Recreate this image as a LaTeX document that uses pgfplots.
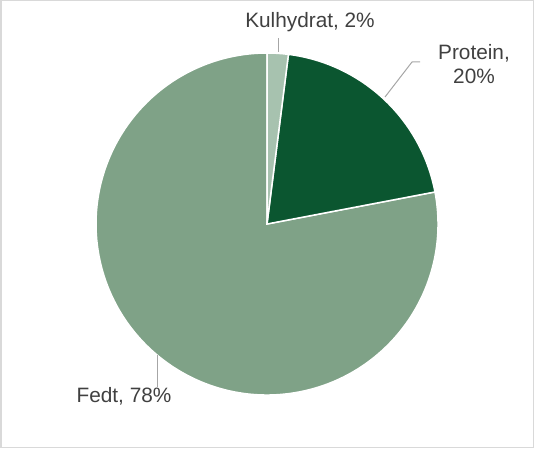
\documentclass[border=0pt]{standalone}
\usepackage{pgfplots}
\usepackage{pgfplotstable}
\pgfplotsset{compat=1.18}
\usepackage{fontspec}
\setmainfont{Liberation Sans}
\definecolor{cKul}{HTML}{A7C2AF}
\definecolor{cPro}{HTML}{0B5630}
\definecolor{cFed}{HTML}{7FA287}
\definecolor{txt}{HTML}{404040}
\definecolor{lead}{HTML}{A6A6A6}
\definecolor{frame}{HTML}{D9D9D9}
\pgfplotstableread{
label value
Kulhydrat 2
Protein 20
Fedt 78
}\piedata
\begin{document}
\begin{tikzpicture}
\pgfplotstablegetelem{0}{value}\of\piedata\let\vA\pgfplotsretval
\pgfplotstablegetelem{1}{value}\of\piedata\let\vB\pgfplotsretval
\pgfplotstablegetelem{2}{value}\of\piedata\let\vC\pgfplotsretval
\pgfmathsetmacro\aO{90}
\pgfmathsetmacro\aA{90-3.6*\vA}
\pgfmathsetmacro\aB{\aA-3.6*\vB}
\pgfmathsetmacro\aC{\aB-3.6*\vC}
\begin{axis}[
  x=1pt, y=1pt,
  xmin=0, xmax=534, ymin=0, ymax=448,
  hide axis, clip=false,
]
\draw[frame, line width=1.5pt] (axis cs:0.75,0.75) rectangle (axis cs:533.25,447.25);
\filldraw[fill=cFed, draw=white, line width=1.5pt] (axis cs:267,224) -- ++(\aB:171pt) arc[start angle=\aB, end angle=\aC, radius=171pt] -- cycle;
\filldraw[fill=cPro, draw=white, line width=1.5pt] (axis cs:267,224) -- ++(\aA:171pt) arc[start angle=\aA, end angle=\aB, radius=171pt] -- cycle;
\filldraw[fill=cKul, draw=white, line width=1.5pt] (axis cs:267,224) -- ++(\aO:171pt) arc[start angle=\aO, end angle=\aA, radius=171pt] -- cycle;
% leader lines
\draw[lead, line width=1pt] (axis cs:278,396) -- (axis cs:278,410);
\draw[lead, line width=1pt] (axis cs:385,351) -- (axis cs:412,386) -- (axis cs:420,386);
\draw[lead, line width=1pt] (axis cs:157,93) -- (axis cs:157,61);
% labels
\node[txt, font=\fontsize{20.8}{23.5}\selectfont] at (axis cs:310,426) {Kulhydrat, 2\%};
\node[txt, font=\fontsize{20.8}{23.5}\selectfont, align=center] at (axis cs:474,384) {Protein,\\20\%};
\node[txt, font=\fontsize{20.8}{23.5}\selectfont] at (axis cs:124,52) {Fedt, 78\%};
\end{axis}
\end{tikzpicture}
\end{document}
